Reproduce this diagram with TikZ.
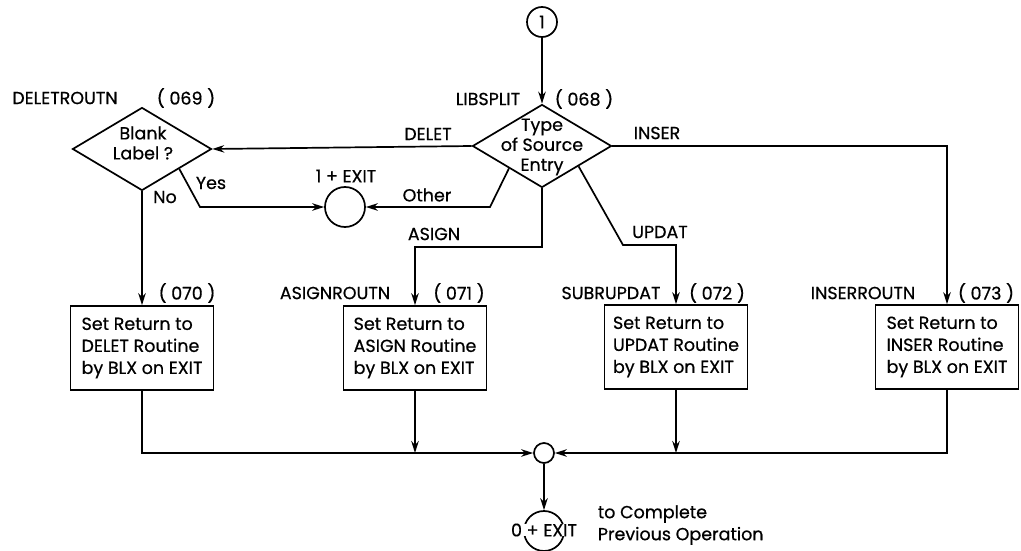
\documentclass[tikz,border=0pt]{standalone}
\usepackage{fontspec}
\setmainfont{Poppins}[UprightFeatures={FakeBold=0.6}]
\usetikzlibrary{shapes.geometric,arrows.meta,calc}
\begin{document}
\begin{tikzpicture}[x=1pt,y=-1pt,
  font=\fontsize{17.5}{22}\selectfont,
  line width=1.7pt,
  arr/.style={-{Stealth[length=12pt,width=7.5pt]}},
  dia/.style={draw,diamond,minimum width=139pt,minimum height=83pt,inner sep=0pt},
  box/.style={draw,rectangle,minimum width=143pt,minimum height=84pt,align=left,inner sep=0pt},
  conn/.style={draw,circle,inner sep=0pt},
  lbl/.style={inner sep=0pt}]
\useasboundingbox (0,0) rectangle (1021,551);

% connectors (circles)
\node[conn,minimum size=30pt] (c1) at (542,22) {1};
\node[conn,minimum size=40pt] (ex1) at (345,207) {};
\node[conn,minimum size=20pt] (m) at (544,453) {};
\node[conn,minimum size=40pt] (ex0) at (544,531) {};
\node[lbl,fill=white,inner xsep=1pt] (ex0t) at (544,530) {0 + EXIT};

% decisions
\node[dia] (lib) at (542,146) {};
\node[lbl,align=center] (libt) at (542,147) {Type\\[-2pt]of Source\\[-2pt]Entry};
\node[dia] (del) at (142,149) {};
\node[lbl,align=center] (delt) at (143,143) {Blank\\[-2pt]Label ?};

% process boxes
\node[box] (b1) at (142,348) {Set Return to\\DELET Routine\\by BLX on EXIT};
\node[box] (b2) at (415,348) {Set Return to\\ASIGN Routine\\by BLX on EXIT};
\node[box] (b3) at (676,347) {Set Return to\\UPDAT Routine\\by BLX on EXIT};
\node[box] (b4) at (947,347) {Set Return to\\INSER Routine\\by BLX on EXIT};

% labels
\node[lbl] (l068a) at (488,99) {LIBSPLIT};
\node[lbl] (l068b) at (584,99) {( 068 )};
\node[lbl] (l069a) at (65,98) {DELETROUTN};
\node[lbl] (l069b) at (186,98) {( 069 )};
\node[lbl] (l070) at (187,293) {( 070 )};
\node[lbl] (l071a) at (335,293) {ASIGNROUTN};
\node[lbl] (l071b) at (459,293) {( 071 )};
\node[lbl] (l072a) at (611,293) {SUBRUPDAT};
\node[lbl] (l072b) at (717,293) {( 072 )};
\node[lbl] (l073a) at (863,293) {INSERROUTN};
\node[lbl] (l073b) at (986,293) {( 073 )};
\node[lbl] (tdelet) at (428,134) {DELET};
\node[lbl] (tinser) at (657,133) {INSER};
\node[lbl] (tyes) at (211,183) {Yes};
\node[lbl] (tno) at (165,197) {No};
\node[lbl] (tex1) at (346,176) {1 + EXIT};
\node[lbl] (tother) at (427,195) {Other};
\node[lbl] (tasign) at (434,234) {ASIGN};
\node[lbl] (tupdat) at (660,232) {UPDAT};
\node[lbl,align=left,anchor=west] (tcomp) at (597,525) {to Complete\\Previous Operation};

% flow lines
\draw[arr] (c1) -- (lib.north);
\draw[arr] (lib.west) -- (del.east);
\draw[arr] ($(del.south)!0.53!(del.east)$) -- (200,207) -- (ex1.west);
\draw[arr] ($(lib.south)!0.47!(lib.west)$) -- (490,207) -- (ex1.east);
\draw[arr] (lib.south) -- (542,247) -| (b2.north);
\draw[arr] ($(lib.south)!0.52!(lib.east)$) -- (623,245) -| (b3.north);
\draw[arr] (lib.east) -| (b4.north);
\draw[arr] (del.south) -- (b1.north);
\draw[arr] (b1.south) |- (m.west);
\draw[arr] (b4.south) |- (m.east);
\draw[arr] (b2.south) -- (b2.south |- m.center);
\draw[arr] (b3.south) -- (b3.south |- m.center);
\draw[arr] (m.south) -- (ex0.north);
\end{tikzpicture}
\end{document}
